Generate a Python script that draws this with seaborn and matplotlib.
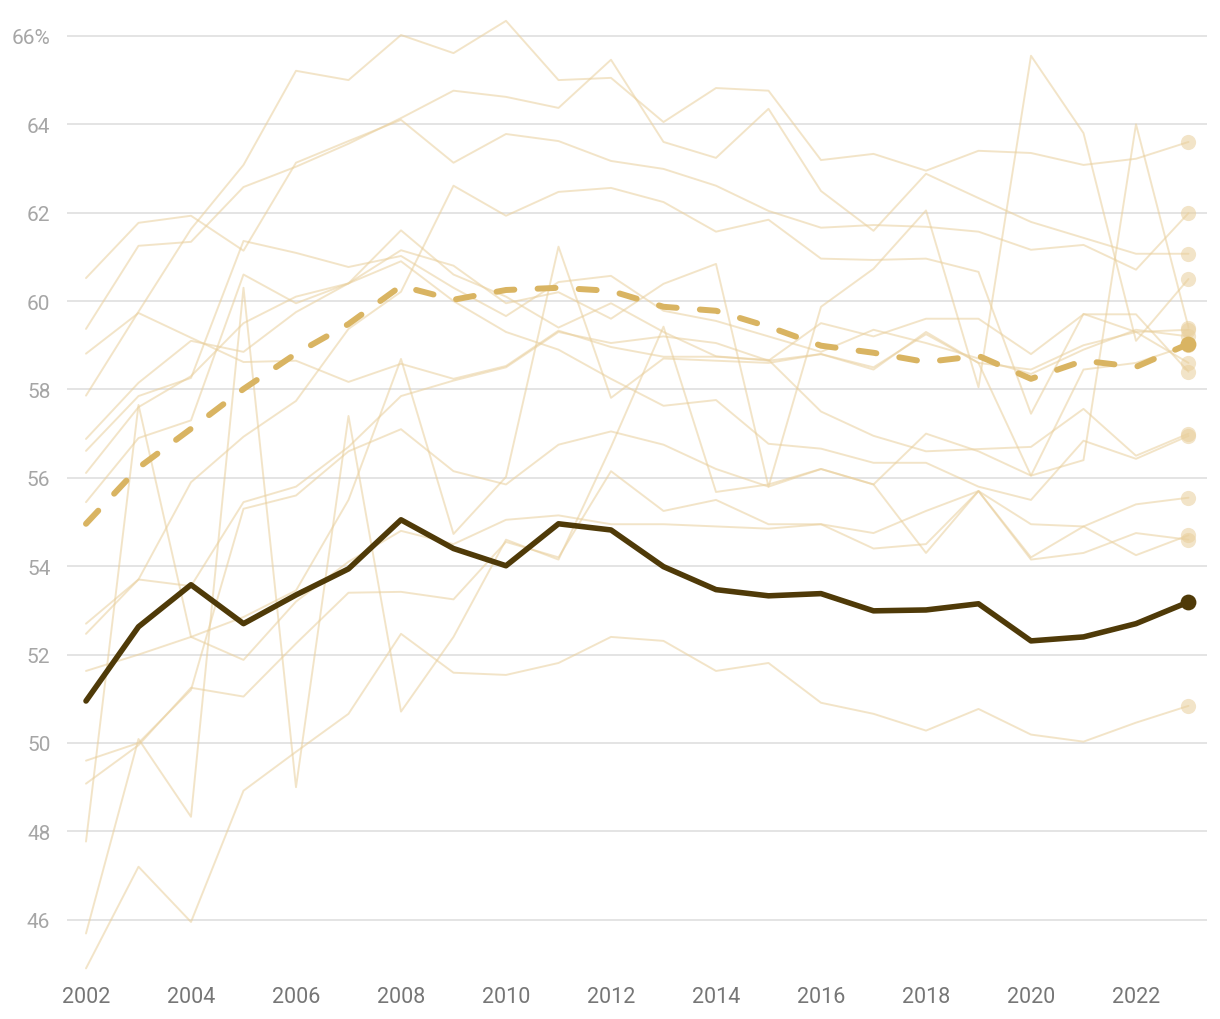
import matplotlib
matplotlib.use("Agg")
import matplotlib.pyplot as plt
import seaborn as sns
import pandas as pd

years = list(range(2002, 2024))

# highlighted series
main_line = [50.95, 52.63, 53.58, 52.70, 53.35, 53.94, 55.05, 54.40, 54.01, 54.96, 54.82, 53.99,
             53.47, 53.33, 53.38, 52.99, 53.01, 53.15, 52.31, 52.40, 52.70, 53.19]
average = [54.96, 56.23, 57.11, 58.01, 58.81, 59.48, 60.34, 60.03, 60.25, 60.30, 60.23, 59.87,
           59.78, 59.42, 58.99, 58.83, 58.62, 58.76, 58.24, 58.65, 58.51, 59.03]

# background series
bg_1 = [57.86, 59.76, 61.63, 63.08, 65.21, 65.00, 66.02, 65.61, 66.34, 65.00, 65.05, 64.05,
        64.82, 64.76, 63.19, 63.33, 62.95, 63.40, 63.35, 63.08, 63.22, 63.60]
bg_2 = [59.37, 61.25, 61.34, 62.58, 63.04, 63.56, 64.14, 64.76, 64.62, 64.37, 65.46, 63.60,
        63.24, 64.35, 62.49, 61.59, 62.88, 62.33, 61.79, 61.43, 61.07, 61.07]
bg_3 = [60.52, 61.77, 61.93, 61.14, 63.13, 63.62, 64.10, 63.13, 63.78, 63.62, 63.17, 62.99,
        62.61, 62.04, 61.66, 61.72, 61.68, 61.57, 61.16, 61.27, 60.71, 61.99]
bg_4 = [56.88, 58.15, 59.10, 58.85, 59.75, 60.40, 61.15, 60.80, 59.95, 60.20, 59.60, 60.39,
        60.84, 55.80, 59.87, 60.73, 62.05, 58.05, 65.55, 63.80, 59.10, 60.50]
bg_5 = [55.45, 56.90, 57.30, 60.60, 59.95, 60.40, 61.60, 60.60, 60.10, 59.40, 59.95, 59.30,
        58.75, 58.65, 58.80, 58.50, 59.25, 58.60, 56.05, 56.40, 64.00, 59.40]
bg_6 = [52.47, 53.70, 55.90, 56.93, 57.74, 59.37, 60.21, 62.61, 61.93, 62.47, 62.56, 62.24,
        61.57, 61.84, 60.96, 60.93, 60.96, 60.66, 57.45, 59.71, 59.30, 59.35]
bg_7 = [56.61, 57.85, 58.26, 61.36, 61.09, 60.77, 61.02, 60.30, 59.66, 60.43, 60.57, 59.78,
        59.55, 59.20, 58.85, 59.35, 59.05, 58.70, 58.35, 58.90, 59.35, 59.20]
bg_8 = [58.81, 59.73, 59.17, 58.62, 58.65, 58.17, 58.58, 58.24, 58.53, 59.33, 58.96, 58.74,
        58.74, 58.67, 57.50, 56.95, 56.60, 56.65, 56.70, 57.56, 56.50, 57.00]
bg_9 = [56.11, 57.60, 58.30, 59.50, 60.10, 60.40, 60.90, 60.00, 59.30, 58.90, 58.24, 57.63,
        57.76, 56.77, 56.66, 56.34, 56.34, 55.80, 55.50, 56.84, 56.43, 56.95]
bg_10 = [52.70, 53.70, 53.55, 55.45, 55.80, 56.70, 57.85, 58.20, 58.50, 59.30, 59.05, 59.20,
         59.05, 58.65, 59.50, 59.20, 59.60, 59.60, 58.80, 59.70, 59.70, 58.40]
bg_11 = [51.63, 52.00, 52.40, 52.85, 53.45, 55.50, 58.69, 54.73, 56.02, 61.23, 57.81, 58.70,
         58.65, 58.60, 58.80, 58.45, 59.30, 58.60, 58.45, 59.00, 59.30, 58.60]
bg_12 = [45.69, 50.09, 48.33, 60.30, 49.00, 57.40, 50.71, 52.40, 54.60, 54.15, 56.70, 59.42,
         55.68, 55.85, 56.20, 55.85, 54.30, 55.70, 54.15, 54.30, 54.75, 54.60]
bg_13 = [49.08, 49.95, 51.25, 51.05, 52.25, 53.40, 53.42, 53.25, 54.55, 54.20, 56.15, 55.25,
         55.50, 54.95, 54.95, 54.40, 54.50, 55.70, 54.20, 54.90, 55.40, 55.55]
bg_14 = [49.60, 50.00, 51.20, 55.30, 55.60, 56.60, 57.10, 56.15, 55.85, 56.75, 57.05, 56.75,
         56.20, 55.80, 56.20, 55.85, 57.00, 56.60, 56.05, 58.45, 58.60, 59.00]
bg_15 = [47.77, 57.65, 52.40, 51.88, 53.20, 54.10, 54.80, 54.50, 55.05, 55.15, 54.95, 54.95,
         54.90, 54.85, 54.95, 54.75, 55.25, 55.70, 54.95, 54.90, 54.25, 54.70]
bg_16 = [44.90, 47.20, 45.95, 48.92, 49.80, 50.66, 52.47, 51.59, 51.54, 51.81, 52.40, 52.31,
         51.63, 51.81, 50.91, 50.66, 50.28, 50.77, 50.19, 50.03, 50.46, 50.84]

background = [bg_1, bg_2, bg_3, bg_4, bg_5, bg_6, bg_7, bg_8, bg_9, bg_10, bg_11, bg_12,
              bg_13, bg_14, bg_15, bg_16]

y_ticks = [46, 48, 50, 52, 54, 56, 58, 60, 62, 64, 66]
x_ticks = list(range(2002, 2023, 2))

LIGHT = "#e9cf9c"
GOLD = "#d9b462"
DARK = "#4f3a08"

sns.set_theme(style="white")
plt.rcParams['font.family'] = ['Roboto', 'DejaVu Sans']

fig = plt.figure(figsize=(12.2, 10.2), dpi=100)
ax = fig.add_axes([67 / 1220, 1 - 976 / 1020, 1140 / 1220, (976 - 17) / 1020])

for vals in background:
    sns.lineplot(x=years, y=vals, ax=ax, color=LIGHT, alpha=0.55, linewidth=1.4, zorder=2)
    ax.scatter(years[-1], vals[-1], s=120, color=LIGHT, alpha=0.55, linewidths=0, zorder=2)

sns.lineplot(x=years, y=average, ax=ax, color=GOLD, linewidth=4.3, zorder=4)
avg_line = ax.lines[-1]
avg_line.set_dashes([3.0, 3.9])
avg_line.set_dash_capstyle("round")
ax.scatter(years[-1], average[-1], s=130, color=GOLD, linewidths=0, zorder=4)

sns.lineplot(x=years, y=main_line, ax=ax, color=DARK, linewidth=4.0, zorder=5)
ax.scatter(years[-1], main_line[-1], s=130, color=DARK, linewidths=0, zorder=5)

ax.set_xlim(2002 - 19 / 52.5, 2023 + 18.5 / 52.5)
ax.set_ylim(44.75, 66.45)

ax.set_yticks(y_ticks)
ax.set_yticklabels([f"{v}%" if v == 66 else str(v) for v in y_ticks])
ax.set_xticks(x_ticks)
ax.set_xticklabels([str(x) for x in x_ticks])

ax.grid(axis="y", color="#e2e2e2", linewidth=1.3)
ax.grid(axis="x", visible=False)
for s in ax.spines.values():
    s.set_visible(False)

ax.tick_params(axis="y", length=0, pad=12, labelsize=15, labelcolor="#a6a6a6")
ax.tick_params(axis="x", length=0, pad=8, labelsize=15.5, labelcolor="#767676")
ax.set_xlabel("")
ax.set_ylabel("")

fig.savefig("out.png", dpi=100)
